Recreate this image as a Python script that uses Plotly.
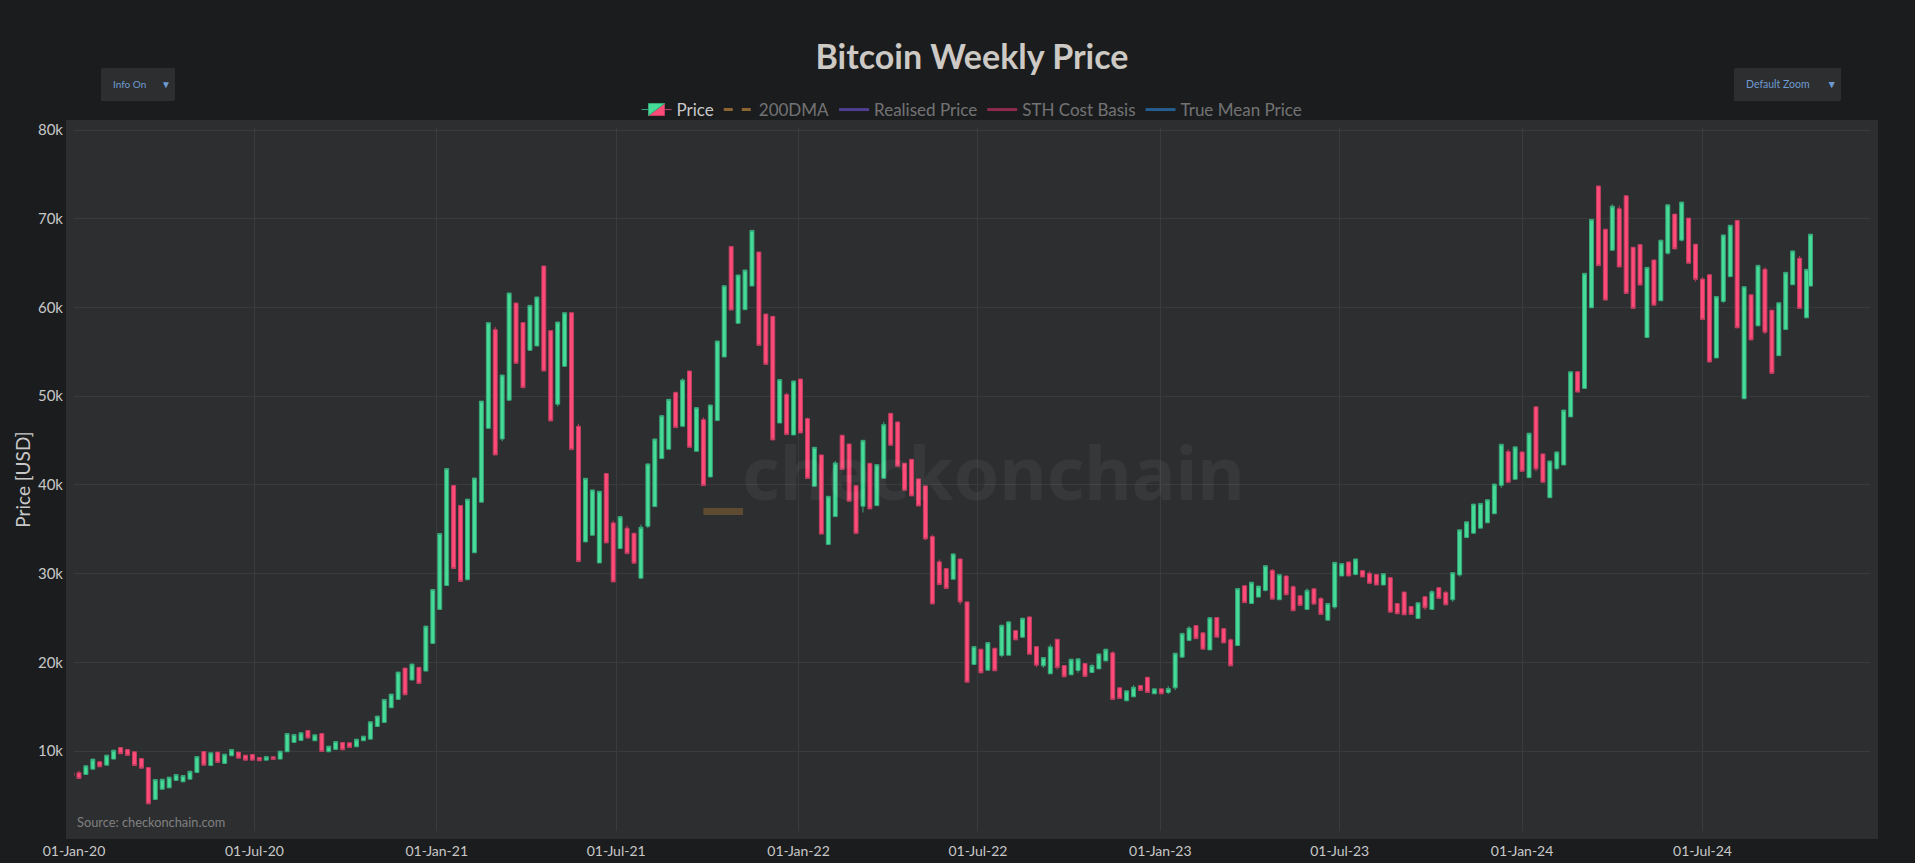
import pandas as pd
import plotly.graph_objects as go

# weekly candles (first week starts 2019-12-30, last row is the partial week)
week_open = [7590, 7556, 7368, 7970, 8800, 8420, 9100, 10410, 10190, 9925,
             9170, 8158, 4550, 5710, 5860, 6690, 6540, 6840, 7590, 9960,
             8380, 9890, 8610, 9470, 9890, 9550, 9620, 9285, 8985, 9360,
             9100, 9925, 10980, 11200, 12330, 11170, 11990, 9925, 10190, 10980,
             10940, 10490, 11170, 11350, 12780, 13230, 14890, 15830, 19360, 18010,
             19440, 19020, 22140, 25970, 28670, 39940, 37690, 29310, 32350, 38060,
             46380, 57500, 45180, 49540, 60500, 58290, 55170, 55660, 64670, 57390,
             49090, 53370, 59410, 46610, 33580, 34330, 31210, 41280, 35720, 32830,
             35120, 34560, 29490, 35340, 37560, 42970, 44020, 50440, 46610, 52840,
             43790, 47360, 40900, 47250, 54420, 66880, 58210, 59750, 62420, 66250,
             59260, 59000, 46980, 50180, 45630, 51940, 47470, 39850, 43380, 33280,
             36430, 45600, 44620, 39920, 37600, 42440, 37670, 40750, 48070, 47100,
             42440, 42890, 40680, 39890, 34180, 31330, 30570, 29370, 31660, 26820,
             19760, 21490, 19120, 21600, 20770, 20810, 23590, 22840, 25130, 21780,
             19610, 18710, 22610, 19650, 18600, 19090, 19870, 18860, 19270, 20170,
             21080, 17130, 15670, 16120, 17400, 18330, 16460, 17020, 16610, 17130,
             20590, 22460, 24150, 23330, 21410, 25050, 23810, 22540, 21900, 28640,
             26640, 27360, 28110, 30380, 27060, 29740, 28530, 27510, 25970, 28300,
             27210, 24760, 26230, 29740, 31320, 29920, 30340, 30040, 29920, 28720,
             29550, 26640, 27930, 26300, 24950, 27400, 25970, 28420, 27890, 27060,
             29850, 34070, 34560, 35130, 35730, 36750, 39950, 43750, 40630, 43720,
             40820, 48800, 43500, 38560, 41840, 42250, 47670, 52760, 50880, 59960,
             73690, 68820, 66450, 71120, 72590, 66790, 67090, 56610, 65350, 60750,
             66110, 70520, 67580, 70070, 67130, 63200, 63690, 54310, 60680, 63470,
             69800, 49710, 61430, 57930, 64300, 59700, 54570, 57510, 62560, 65540,
             58830, 62410]
week_close = [7180, 6917, 8345, 9100, 8230, 9550, 10110, 9700, 9510, 8380,
              8080, 4060, 6800, 6840, 7070, 7370, 7255, 7740, 9400, 8420,
              9810, 8720, 9660, 10190, 9210, 8985, 8985, 8910, 9400, 9060,
              10000, 11990, 11880, 12070, 11470, 11840, 9960, 10560, 11090, 10150,
              10410, 11350, 11690, 13310, 13950, 15830, 16430, 18910, 16350, 19810,
              17630, 24090, 28220, 34530, 41850, 30580, 29120, 38400, 40780, 49450,
              58290, 43380, 52390, 61630, 53700, 50960, 60240, 61180, 52840, 47210,
              58360, 59410, 43980, 31360, 40750, 39440, 39290, 33470, 29070, 36430,
              32260, 31180, 35230, 42370, 45180, 47810, 49650, 46460, 51830, 44240,
              48710, 39920, 49010, 56220, 62450, 59710, 63660, 64220, 68690, 55730,
              53590, 45070, 51870, 45670, 51720, 45860, 40730, 44240, 34460, 38720,
              42480, 41760, 38160, 34520, 45030, 37300, 42290, 46800, 44470, 42100,
              39400, 38760, 37630, 33920, 26590, 28770, 28320, 32230, 26820, 17770,
              21780, 18820, 22240, 19050, 24190, 24570, 22540, 24980, 20920, 19680,
              20550, 21750, 19420, 18370, 20360, 20400, 18410, 19650, 20960, 21490,
              15820, 15930, 16800, 17210, 16830, 16610, 17020, 16460, 17060, 21040,
              23270, 23870, 22670, 21490, 25040, 22840, 22200, 19610, 28330, 26730,
              29040, 28600, 30900, 27130, 29890, 27620, 25820, 26420, 28120, 26570,
              25400, 26640, 31280, 31130, 29740, 31660, 29620, 28910, 28720, 30000,
              25660, 25480, 25360, 25400, 26720, 26150, 27960, 27210, 26490, 30110,
              34940, 35840, 37840, 37920, 38330, 40100, 44590, 40290, 44290, 41540,
              45830, 41800, 40290, 42700, 43720, 48440, 52760, 50460, 63850, 69920,
              64710, 60830, 71420, 64560, 61580, 59890, 62530, 64520, 60260, 67580,
              71570, 66600, 71880, 64980, 63170, 58640, 53850, 61240, 68180, 69270,
              57700, 62340, 56340, 64750, 57210, 52570, 60530, 63960, 66370, 59890,
              64300, 68260]

# small wicks poking out of the bodies, candle number -> price
wick_high = {2: 7800, 62: 57800, 74: 46900, 79: 35980, 81: 35420, 83: 35530, 89: 52020,
             92: 47620, 104: 50400, 107: 47600, 111: 42700, 118: 47100, 125: 34400,
             126: 31600, 142: 22050, 148: 19850, 151: 21250, 154: 17430, 159: 17320,
             162: 24080, 168: 22700, 174: 30530, 177: 28680, 179: 28350, 181: 27360,
             188: 30260, 197: 28150, 199: 28080, 208: 44020, 223: 71620, 224: 71460,
             236: 63430, 245: 64530, 250: 65800}
wick_low = {63: 44920, 71: 48830, 84: 35120, 115: 36900, 124: 33770, 129: 26520,
            135: 20580, 140: 19460, 141: 19380, 143: 19200, 146: 18830, 159: 16420,
            160: 16870, 173: 28000, 183: 26000, 186: 29810, 196: 25920, 200: 26830,
            201: 29660, 207: 39680, 212: 41540, 215: 41650, 231: 65960, 233: 67430,
            235: 62910, 239: 60490, 245: 56980}

week_start = pd.date_range("2019-12-30", periods=251, freq="7D").tolist()
week_start.append(pd.Timestamp("2024-10-18"))

week_high = [wick_high.get(i + 1, max(o, c)) for i, (o, c) in enumerate(zip(week_open, week_close))]
week_low = [wick_low.get(i + 1, min(o, c)) for i, (o, c) in enumerate(zip(week_open, week_close))]

# the four other series are switched off in the legend, one last reading each
last_date = ["2024-10-18"]
dma_200 = [63000]
realised_price = [31000]
sth_cost_basis = [62500]
true_mean_price = [36000]

# brown box left on the chart
box_dates = ["2021-09-27", "2021-11-06"]
box_price = [37000, 37000]

paper_bg = "#1b1c1e"
plot_bg = "#2d2e30"
grid_col = "#3a3b3d"
text_col = "#c8c8c8"
up_col = "#46dc98"
down_col = "#ff4b78"
font_name = "Lato"

fig = go.Figure()

fig.add_trace(go.Candlestick(x=week_start, open=week_open, high=week_high, low=week_low, close=week_close,
                             name="Price",
                             increasing=dict(fillcolor=up_col, line=dict(color="#36a87a", width=1)),
                             decreasing=dict(fillcolor=down_col, line=dict(color="#c23e62", width=1))))
fig.add_trace(go.Scatter(x=last_date, y=dma_200, name="200DMA", mode="lines", visible="legendonly",
                         line=dict(color="#fdac46", width=3, dash="dash")))
fig.add_trace(go.Scatter(x=last_date, y=realised_price, name="Realised Price", mode="lines", visible="legendonly",
                         line=dict(color="#8360ff", width=3)))
fig.add_trace(go.Scatter(x=last_date, y=sth_cost_basis, name="STH Cost Basis", mode="lines", visible="legendonly",
                         line=dict(color="#ff387e", width=3)))
fig.add_trace(go.Scatter(x=last_date, y=true_mean_price, name="True Mean Price", mode="lines", visible="legendonly",
                         line=dict(color="#2f9eff", width=3)))
fig.add_trace(go.Scatter(x=box_dates, y=box_price, mode="lines", showlegend=False, hoverinfo="skip",
                         line=dict(color="#5f4b32", width=7)))

fig.update_layout(
    width=1915,
    height=863,
    margin=dict(l=74, r=45, t=128, b=32),
    paper_bgcolor=paper_bg,
    plot_bgcolor=plot_bg,
    boxgap=0,
    boxgroupgap=0,
    font=dict(family=font_name, color=text_col, size=15),
    title=dict(text="<b>Bitcoin Weekly Price</b>", x=0.5, xref="paper", xanchor="center",
               y=0.934, yanchor="middle", font=dict(size=34, color="#cdc9c4")),
    legend=dict(orientation="h", x=0.5, xanchor="center", y=1.0256, yanchor="middle",
                font=dict(size=17), bgcolor="rgba(0,0,0,0)"),
    xaxis=dict(range=["2020-01-01", "2024-12-17"], tick0="2020-01-01", dtick="M6", tickformat="%d-%b-%y",
               showgrid=True, gridcolor=grid_col, zeroline=False, rangeslider=dict(visible=False),
               showline=True, linewidth=8, linecolor=plot_bg, mirror=True, ticks="", automargin=False,
               tickfont=dict(size=14)),
    yaxis=dict(range=[1000, 80225], dtick=10000, tickformat="~s",
               title=dict(text="Price [USD]", font=dict(size=19), standoff=5),
               showgrid=True, gridcolor=grid_col, zeroline=False,
               showline=True, linewidth=8, linecolor=plot_bg, mirror=True, ticks="", automargin=False,
               tickfont=dict(size=15)),
    annotations=[
        dict(text="<b>checkonchain</b>", xref="paper", yref="paper", x=0.5122, y=0.5107, showarrow=False,
             font=dict(family="Noto Sans", size=73, color="rgba(255,255,255,0.05)")),
        dict(text="Source: checkonchain.com", xref="paper", yref="paper", x=0.0005, y=0.013, xanchor="left",
             yanchor="middle", showarrow=False, font=dict(size=12.8, color="#808080")),
    ],
    updatemenus=[
        dict(type="dropdown", direction="down", showactive=True, x=0.015, xanchor="left", y=1.0853, yanchor="top",
             bgcolor=plot_bg, borderwidth=0, font=dict(size=10, color="#6f9bd1"), pad=dict(t=0, b=0, l=0, r=0),
             buttons=[dict(label="Info On", method="relayout", args=[{"annotations[1].visible": True}]),
                      dict(label="Off", method="relayout", args=[{"annotations[1].visible": False}])]),
        dict(type="dropdown", direction="down", showactive=True, x=0.9838, xanchor="right", y=1.0853, yanchor="top",
             bgcolor=plot_bg, borderwidth=0, font=dict(size=10.5, color="#6f9bd1"), pad=dict(t=0, b=0, l=0, r=0),
             buttons=[dict(label="Default Zoom", method="relayout", args=[{"xaxis.range": ["2020-01-01", "2024-12-17"]}]),
                      dict(label="Zoom All Time", method="relayout", args=[{"xaxis.autorange": True}])]),
    ],
)

fig.write_html("out.html", config=dict(displayModeBar=False),
               post_script="document.body.style.margin='0';document.body.style.overflow='hidden';document.body.style.background='%s';" % paper_bg)
